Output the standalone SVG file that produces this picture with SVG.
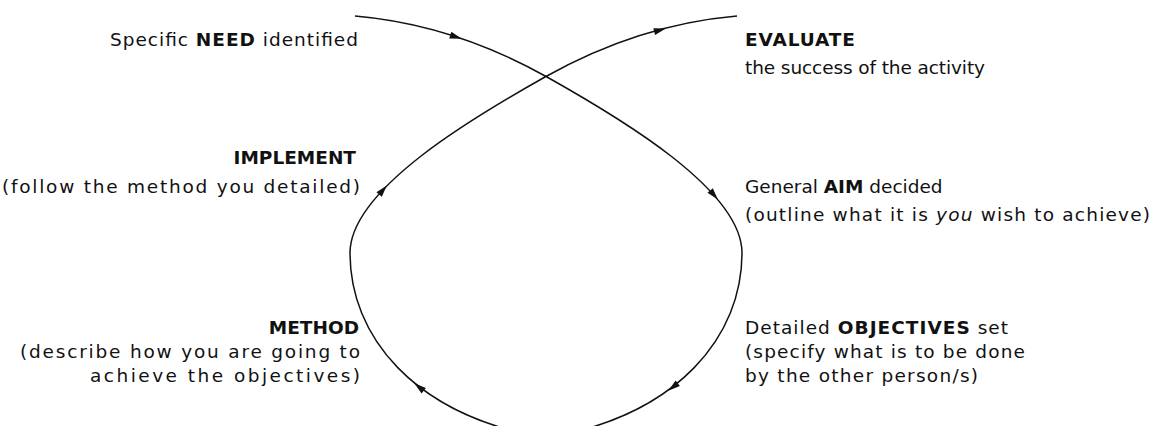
<svg xmlns="http://www.w3.org/2000/svg" width="1157" height="426" viewBox="0 0 1157 426">
<style>
text{font-family:"DejaVu Sans","Liberation Sans",sans-serif;font-size:18.5px;fill:#111}
.b{font-weight:bold}
.i{font-style:italic}
.curve{fill:none;stroke:#111;stroke-width:1.5}
.ah{fill:#111}
</style>
<defs>
<path id="ah" d="M6,0 L-6,-3.5 L-6,3.5 Z"/>
</defs>
<rect width="1157" height="426" fill="#fff"/>
<g id="connectors">
<path class="curve" d="M355,16 C425,22 490,45 547,77 C620,118 742,190 742,253 C742,335 680,415 546,438 C412,415 350,335 350,253 C350,190 472,118 545,77 C602,45 667,22 737,16"/>
<use href="#ah" class="ah" transform="translate(456,37) rotate(18)"/>
<use href="#ah" class="ah" transform="translate(714,195) rotate(50)"/>
<use href="#ah" class="ah" transform="translate(673,387) rotate(142)"/>
<use href="#ah" class="ah" transform="translate(419,387) rotate(218)"/>
<use href="#ah" class="ah" transform="translate(383,190) rotate(-50)"/>
<use href="#ah" class="ah" transform="translate(660,30) rotate(-15)"/>
</g>
<g id="need"><text x="110" y="46" textLength="248" lengthAdjust="spacing">Specific <tspan class="b">NEED</tspan> identified</text></g>
<g id="evaluate">
<text x="745" y="46" class="b" textLength="110" lengthAdjust="spacing">EVALUATE</text>
<text x="745" y="74" textLength="240" lengthAdjust="spacing">the success of the activity</text>
</g>
<g id="implement">
<text x="356" y="164" class="b" text-anchor="end">IMPLEMENT</text>
<text x="360" y="193" text-anchor="end" textLength="358" lengthAdjust="spacing">(follow the method you detailed)</text>
</g>
<g id="aim">
<text x="745" y="193">General <tspan class="b">AIM</tspan> decided</text>
<text x="745" y="221" textLength="405" lengthAdjust="spacing">(outline what it is <tspan class="i">you</tspan> wish to achieve)</text>
</g>
<g id="method">
<text x="359" y="334" class="b" text-anchor="end">METHOD</text>
<text x="360" y="358" text-anchor="end" textLength="340" lengthAdjust="spacing">(describe how you are going to</text>
<text x="360" y="382" text-anchor="end" textLength="270" lengthAdjust="spacing">achieve the objectives)</text>
</g>
<g id="objectives">
<text x="745" y="334" textLength="263" lengthAdjust="spacing">Detailed <tspan class="b">OBJECTIVES</tspan> set</text>
<text x="745" y="358" textLength="280" lengthAdjust="spacing">(specify what is to be done</text>
<text x="745" y="382" textLength="233" lengthAdjust="spacing">by the other person/s)</text>
</g>
</svg>
